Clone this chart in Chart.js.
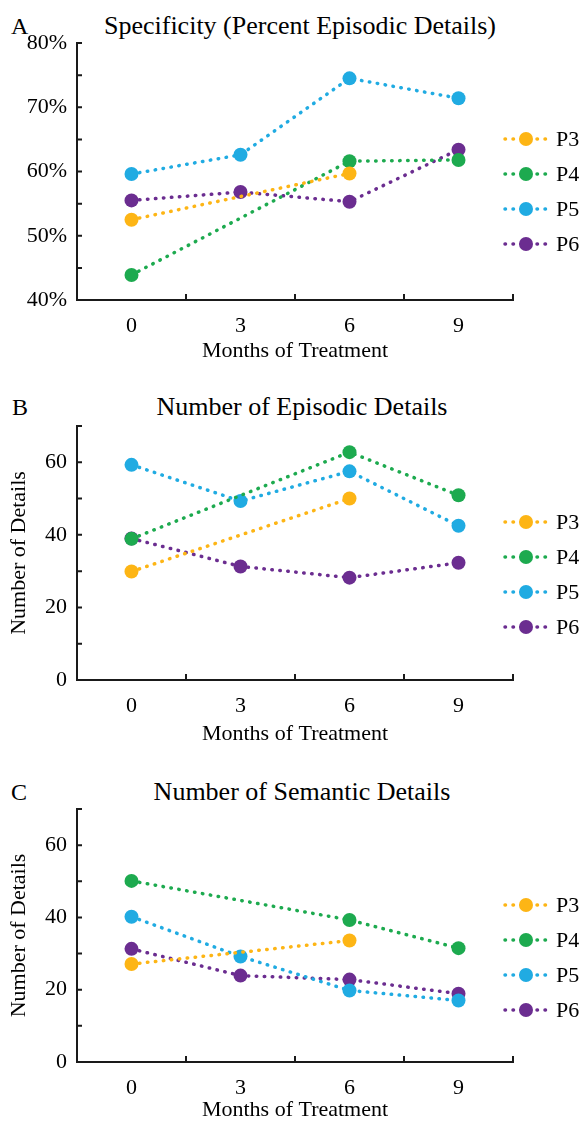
<!DOCTYPE html>
<html><head><meta charset="utf-8">
<script src="https://cdn.jsdelivr.net/npm/chart.js@4.4.1/dist/chart.umd.min.js"></script>
<style>
body{margin:0;background:#fff;}
#page{position:relative;width:584px;height:1123px;overflow:hidden;background:#fff;font-family:'Liberation Serif','Times New Roman',serif;color:#000}
canvas{position:absolute;left:0}
.t{position:absolute;white-space:nowrap;font-size:26px;line-height:1;transform:translate(-50%,-50%)}
.l{position:absolute;font-size:24px;line-height:1;transform:translateY(-50%)}
</style></head><body><div id="page">
<div class="l" style="left:11px;top:26px">A</div>
<div class="t" style="left:300px;top:26px">Specificity (Percent Episodic Details)</div>
<canvas id="cA" width="584" height="370" style="top:0px"></canvas>
<div class="l" style="left:12px;top:407px">B</div>
<div class="t" style="left:302px;top:407px">Number of Episodic Details</div>
<canvas id="cB" width="584" height="380" style="top:370px"></canvas>
<div class="l" style="left:11px;top:792px">C</div>
<div class="t" style="left:302px;top:792px">Number of Semantic Details</div>
<canvas id="cC" width="584" height="373" style="top:750px"></canvas>
</div>
<script>
// ---- data ----
const months = ['0', '3', '6', '9'];
const names = ['P3', 'P4', 'P5', 'P6'];
const colors = ['#FDB515', '#1DAA4F', '#20ABE2', '#6B2D90'];

// A: Specificity (percent episodic details)
const specP3 = [52.5, null, 59.7, null];
const specP4 = [43.9, null, 61.6, 61.8];
const specP5 = [59.6, 62.6, 74.5, 71.4];
const specP6 = [55.5, 56.8, 55.3, 63.4];

// B: Number of episodic details
const epiP3 = [29.9, null, 50.0, null];
const epiP4 = [38.9, null, 62.8, 50.9];
const epiP5 = [59.3, 49.3, 57.5, 42.5];
const epiP6 = [39.0, 31.3, 28.2, 32.3];

// C: Number of semantic details
const semP3 = [27.1, null, 33.6, null];
const semP4 = [50.1, null, 39.3, 31.5];
const semP5 = [40.2, 29.2, 19.8, 17.0];
const semP6 = [31.3, 23.9, 22.8, 18.9];

// tick labels
const pctLabelValues = [40, 50, 60, 70, 80];
const countLabelValues = [0, 20, 40, 60];

// ---- drawing ----
const FF = "'Liberation Serif','Times New Roman',serif";
const AXIS = '#1a1a1a';
const FS = 22;

const inTicks = {
  id: 'inTicks',
  beforeDatasetsDraw(chart) {
    const {ctx, chartArea: a, scales: {x, y}} = chart;
    ctx.save();
    ctx.strokeStyle = AXIS; ctx.lineWidth = 2;
    ctx.beginPath();
    y.ticks.forEach((t, i) => {
      const py = y.getPixelForTick(i);
      ctx.moveTo(a.left, py); ctx.lineTo(a.left + 5, py);
    });
    for (let i = 0; i <= x.ticks.length; i++) {
      const px = x.getPixelForValue(i - 0.5);
      ctx.moveTo(px, a.bottom); ctx.lineTo(px, a.bottom - 6);
    }
    ctx.stroke();
    ctx.restore();
  }
};

const dotLegend = {
  id: 'dotLegend',
  afterDraw(chart, args, opts) {
    const {ctx, chartArea: a} = chart;
    chart.data.datasets.forEach((ds, i) => {
      const cy = a.top + opts.top + i * opts.gap;
      const x0 = a.right + opts.x0, x1 = a.right + opts.x1;
      ctx.save();
      ctx.strokeStyle = ds.borderColor; ctx.lineWidth = ds.borderWidth;
      ctx.lineCap = 'round'; ctx.setLineDash(ds.borderDash);
      ctx.beginPath(); ctx.moveTo(x0, cy); ctx.lineTo(x1, cy); ctx.stroke();
      ctx.setLineDash([]);
      ctx.fillStyle = ds.pointBackgroundColor;
      ctx.beginPath(); ctx.arc((x0 + x1) / 2, cy, ds.pointRadius, 0, Math.PI * 2); ctx.fill();
      ctx.fillStyle = '#000'; ctx.font = opts.fontSize + 'px ' + FF;
      ctx.textBaseline = 'middle'; ctx.textAlign = 'left';
      ctx.fillText(ds.label, a.right + opts.tx, cy + 1);
      ctx.restore();
    });
  }
};

function makeChart(id, series, ymin, ymax, labelVals, suffix, yTitle, lay) {
  return new Chart(document.getElementById(id), {
    type: 'line',
    data: {
      labels: months,
      datasets: series.map((d, i) => ({
        label: names[i], data: d,
        borderColor: colors[i], backgroundColor: colors[i],
        pointBackgroundColor: colors[i], pointBorderWidth: 0,
        pointRadius: 7, pointHoverRadius: 7,
        borderWidth: 3.5, borderDash: [0.5, 7.5], borderCapStyle: 'round',
        spanGaps: true, tension: 0, fill: false
      }))
    },
    options: {
      responsive: false, animation: false, events: [],
      layout: {padding: {top: lay.top, right: 71, left: 0, bottom: 0}},
      plugins: {
        legend: {display: false}, tooltip: {enabled: false},
        dotLegend: {top: 96, gap: 35, x0: -8, x1: 34, tx: 43, fontSize: FS}
      },
      scales: {
        x: {
          type: 'category', offset: true,
          grid: {display: false, drawTicks: false},
          border: {display: true, color: AXIS, width: 2},
          ticks: {color: '#000', font: {family: FF, size: FS}, padding: 13, maxRotation: 0},
          title: {display: true, text: 'Months of Treatment', color: '#000',
                  font: {family: FF, size: FS}, padding: {top: 0, bottom: lay.xtb}},
          afterFit: s => { s.height = lay.xh; }
        },
        y: {
          min: ymin, max: ymax,
          grid: {display: false, drawTicks: false},
          border: {display: true, color: AXIS, width: 2},
          ticks: {
            stepSize: 5 * (suffix ? 1 : 2), autoSkip: false, color: '#000',
            font: {family: FF, size: FS}, padding: 10,
            callback: v => labelVals.includes(v) ? v + suffix : ''
          },
          title: {display: !!yTitle, text: yTitle, color: '#000',
                  font: {family: FF, size: FS}, padding: {top: 6, bottom: 0}},
          afterFit: s => { s.width = 77; }
        }
      }
    },
    plugins: [inTicks, dotLegend]
  });
}

makeChart('cA', [specP3, specP4, specP5, specP6], 40, 80, pctLabelValues, '%', '',
          {top: 43, xh: 70, xtb: 6});
makeChart('cB', [epiP3, epiP4, epiP5, epiP6], 0, 70, countLabelValues, '', 'Number of Details',
          {top: 56, xh: 70, xtb: 3});
makeChart('cC', [semP3, semP4, semP5, semP6], 0, 70, countLabelValues, '', 'Number of Details',
          {top: 59, xh: 61, xtb: 0});
</script>
</body></html>
